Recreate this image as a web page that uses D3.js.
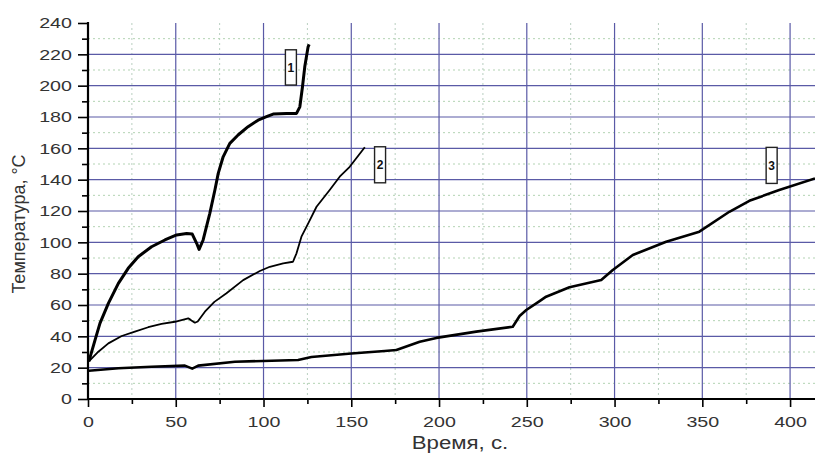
<!DOCTYPE html>
<html>
<head>
<meta charset="utf-8">
<script src="https://cdn.jsdelivr.net/npm/d3@7"></script>
<style>
  body { margin: 0; background: #fff; }
  svg { display: block; }
  text { font-family: "Liberation Sans", Arial, sans-serif; fill: #333; }
  .wide { transform-box: fill-box; transform-origin: center; transform: scaleX(1.27); }
  .wideR { transform-box: fill-box; transform-origin: right center; transform: scaleX(1.27); }
</style>
</head>
<body>
<svg id="chart" width="815" height="453"></svg>
<script>
// curve 1
var t1 = [0.5, 4, 6.8, 11.6, 17.3, 22.9, 28.6, 36.2, 43.8, 50.5, 56.2, 59.4, 61.9, 63.3, 65.6, 69.4, 72.3,
          74.2, 77, 80.8, 85.5, 91.2, 96.9, 101.7, 105.5, 113.1, 118.8, 120.7, 122.2, 123.5, 125.4, 126];
var v1 = [24, 37.6, 48.3, 61, 73.8, 83.4, 90.8, 97.2, 101.5, 104.7, 105.7, 105.3, 99.4, 95.5, 101.5, 118.5, 133.4,
          144, 154.6, 163.2, 168.5, 173.8, 178, 180.2, 181.9, 182.3, 182.3, 186.5, 199.3, 212, 224.8, 226.3];
// curve 2
var t2 = [0.5, 5.9, 11.6, 19.2, 26.7, 34.3, 41.9, 49.5, 57.1, 58.5, 60.9, 62.5, 66.6, 72, 78.9, 88.4, 97.9,
          103.6, 111.2, 116.8, 118.8, 121.6, 125.4, 130.2, 137.7, 143.4, 149.1, 157.7];
var v2 = [24, 30.2, 35.5, 40.2, 43, 45.8, 47.9, 49.3, 51.5, 50.5, 48.7, 49.5, 55.7, 62, 67.5, 75.9, 81.7,
          84.4, 86.6, 87.6, 93, 103.6, 112, 122.7, 133.4, 141.9, 148.2, 160.7];
// curve 3
var t3 = [0.5, 17.3, 36.2, 55.2, 59.4, 62.8, 83.7, 119.7, 127.3, 150, 169, 175.7, 189, 198.5, 221.2, 242,
          245.9, 249.7, 257.3, 261, 274.3, 292.4, 299, 310.4, 329.4, 348.3, 365.4, 376.8, 393.8, 414.2];
var v3 = [18, 19.6, 20.6, 21.3, 19.4, 21.3, 23.8, 24.9, 26.8, 29, 30.6, 31.3, 36.6, 39, 43, 46.1,
          53, 56.8, 62.5, 65.3, 71.3, 75.9, 82.3, 91.9, 100.4, 106.8, 119.5, 126.5, 133.4, 140.8];

// curve tags: name, time, top and bottom temperature of the box
var tagNames = ["1", "2", "3"];
var tagT = [115.6, 166.4, 389.5];
var tagTop = [222.9, 161, 160.6];
var tagBottom = [200.4, 138, 137.6];

var xMajor = d3.range(0, 401, 50);
var xMinor = d3.range(25, 401, 50);
var yMajor = d3.range(0, 241, 20);
var yMinor = d3.range(10, 240, 20);

var svg = d3.select("#chart");
var x = d3.scaleLinear().domain([0, 414.2]).range([88, 815]);
var y = d3.scaleLinear().domain([0, 240]).range([399, 23]);

// minor grid (dotted)
var grid = svg.append("g");
grid.selectAll("line.mx").data(xMinor).enter().append("line")
    .attr("x1", function(d) { return x(d); }).attr("x2", function(d) { return x(d); })
    .attr("y1", y(240)).attr("y2", y(0))
    .attr("stroke", "#b9cfc0").attr("stroke-width", 1).attr("stroke-dasharray", "2,3");
grid.selectAll("line.my").data(yMinor).enter().append("line")
    .attr("x1", x(0)).attr("x2", 815)
    .attr("y1", function(d) { return y(d); }).attr("y2", function(d) { return y(d); })
    .attr("stroke", "#b3d3b3").attr("stroke-width", 1).attr("stroke-dasharray", "2,3");

// major grid
grid.selectAll("line.Mx").data(xMajor.slice(1)).enter().append("line")
    .attr("x1", function(d) { return x(d); }).attr("x2", function(d) { return x(d); })
    .attr("y1", y(240)).attr("y2", y(0))
    .attr("stroke", "#5a5aa6").attr("stroke-width", 1.2);
grid.selectAll("line.My").data(yMajor.slice(1, -1)).enter().append("line")
    .attr("x1", x(0)).attr("x2", 815)
    .attr("y1", function(d) { return y(d); }).attr("y2", function(d) { return y(d); })
    .attr("stroke", "#5a5aa6").attr("stroke-width", 1.2);

// curves
var line = d3.line().x(function(d) { return x(d[0]); }).y(function(d) { return y(d[1]); });
var curves = [[t1, v1, 3], [t2, v2, 1.8], [t3, v3, 2.6]];
curves.forEach(function(c) {
  svg.append("path")
    .datum(d3.zip(c[0], c[1]))
    .attr("d", line)
    .attr("fill", "none")
    .attr("stroke", "#000")
    .attr("stroke-width", c[2])
    .attr("stroke-linejoin", "round");
});

// tags
tagNames.forEach(function(n, i) {
  var g = svg.append("g");
  g.append("rect")
    .attr("x", x(tagT[i]) - 5.5).attr("y", y(tagTop[i]))
    .attr("width", 11).attr("height", y(tagBottom[i]) - y(tagTop[i]))
    .attr("fill", "#fff").attr("stroke", "#222").attr("stroke-width", 1.4);
  g.append("text")
    .attr("x", x(tagT[i])).attr("y", (y(tagTop[i]) + y(tagBottom[i])) / 2 + 4.5)
    .attr("text-anchor", "middle").attr("font-size", 12).attr("font-weight", "bold")
    .style("fill", "#111")
    .text(n);
});

// axes
function styleAxis(g) {
  g.select(".domain").remove();
  g.selectAll(".tick line").attr("stroke", "#000").attr("stroke-width", 1.6);
  g.selectAll("text").attr("font-size", 15.5).style("fill", "#333");
}

svg.append("g").attr("transform", "translate(" + x(0) + ",0)")
  .call(d3.axisLeft(y).tickValues(yMinor).tickSize(6).tickFormat(""))
  .call(styleAxis);
svg.append("g").attr("transform", "translate(0," + y(0) + ")")
  .call(d3.axisBottom(x).tickValues(xMinor).tickSize(5).tickFormat(""))
  .call(styleAxis);

svg.append("g").attr("transform", "translate(" + x(0) + ",0)")
  .call(d3.axisLeft(y).tickValues(yMajor).tickSize(10).tickPadding(6))
  .call(styleAxis)
  .selectAll("text").attr("class", "wideR");
svg.append("g").attr("transform", "translate(0," + y(0) + ")")
  .call(d3.axisBottom(x).tickValues(xMajor).tickSize(8).tickPadding(9))
  .call(styleAxis)
  .selectAll("text").attr("class", "wide");

svg.append("line")
  .attr("x1", x(0)).attr("x2", x(0)).attr("y1", y(240) - 1).attr("y2", y(0) + 1)
  .attr("stroke", "#000").attr("stroke-width", 2.2);
svg.append("line")
  .attr("x1", x(0)).attr("x2", 815).attr("y1", y(0)).attr("y2", y(0))
  .attr("stroke", "#000").attr("stroke-width", 2.2);

// axis titles
svg.append("text")
  .attr("class", "wide")
  .attr("x", 460).attr("y", 449)
  .attr("text-anchor", "middle").attr("font-size", 17.5)
  .text("Время, с.");

svg.append("text")
  .attr("transform", "translate(25,224) rotate(-90)")
  .attr("text-anchor", "middle").attr("font-size", 18)
  .text("Температура, °C");
</script>
</body>
</html>
